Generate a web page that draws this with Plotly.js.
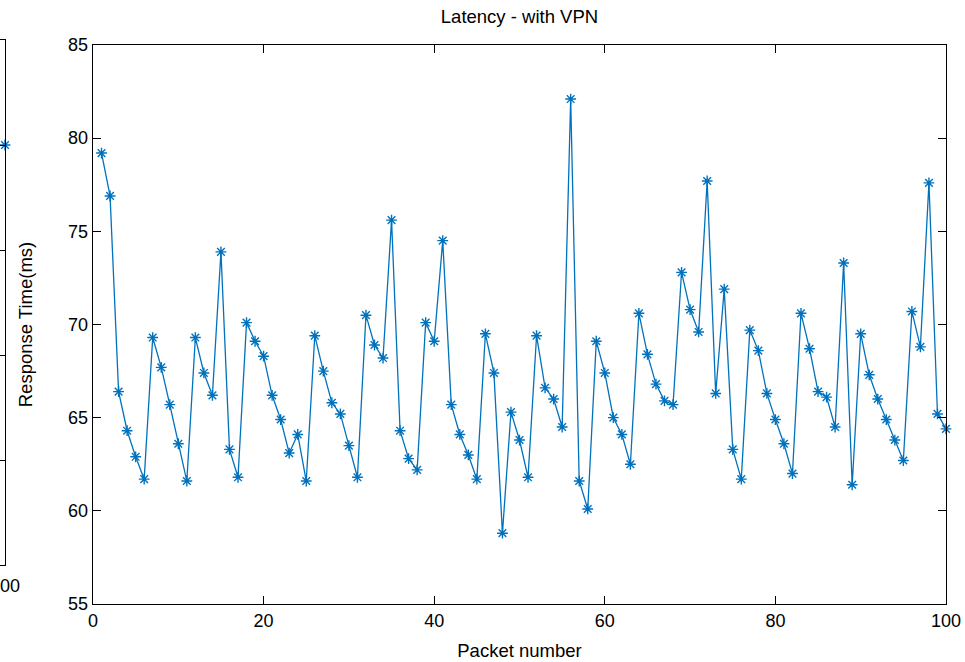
<!DOCTYPE html>
<html>
<head>
<meta charset="utf-8">
<script src="https://cdn.plot.ly/plotly-3.0.1.min.js"></script>
<style>html,body{margin:0;padding:0;background:#fff;}#chart{width:965px;height:662px;}</style>
</head>
<body>
<div id="chart"></div>
<script>
// Main chart: Latency - with VPN
const packetNumbers = [];
for (let i = 1; i <= 100; i++) packetNumbers.push(i);
const responseTimes = [
  79.2, 76.9, 66.4, 64.3, 62.9, 61.7, 69.3, 67.7, 65.7, 63.6,
  61.6, 69.3, 67.4, 66.2, 73.9, 63.3, 61.8, 70.1, 69.1, 68.3,
  66.2, 64.9, 63.1, 64.1, 61.6, 69.4, 67.5, 65.8, 65.2, 63.5,
  61.8, 70.5, 68.9, 68.2, 75.6, 64.3, 62.8, 62.2, 70.1, 69.1,
  74.5, 65.7, 64.1, 63.0, 61.7, 69.5, 67.4, 58.8, 65.3, 63.8,
  61.8, 69.4, 66.6, 66.0, 64.5, 82.1, 61.6, 60.1, 69.1, 67.4,
  65.0, 64.1, 62.5, 70.6, 68.4, 66.8, 65.9, 65.7, 72.8, 70.8,
  69.6, 77.7, 66.3, 71.9, 63.3, 61.7, 69.7, 68.6, 66.3, 64.9,
  63.6, 62.0, 70.6, 68.7, 66.4, 66.1, 64.5, 73.3, 61.4, 69.5,
  67.3, 66.0, 64.9, 63.8, 62.7, 70.7, 68.8, 77.6, 65.2, 64.4
];
const xTicks = [0, 20, 40, 60, 80, 100];
const yTicks = [55, 60, 65, 70, 75, 80, 85];

// Edge of the neighbouring (cropped) chart on the left
const neighbourX = [100];
const neighbourY = [4];
const neighbourXTicks = [100];

const blue = '#0072BD';
const font = 'Liberation Sans, Arial, Helvetica, sans-serif';

const traces = [
  {
    x: packetNumbers, y: responseTimes, type: 'scatter', mode: 'lines+markers',
    line: {color: blue, width: 1.3},
    marker: {symbol: 'asterisk-open', size: 9, color: blue, line: {color: blue, width: 1.4}},
    xaxis: 'x', yaxis: 'y', cliponaxis: false, hoverinfo: 'x+y'
  },
  {
    x: neighbourX, y: neighbourY, type: 'scatter', mode: 'markers',
    marker: {symbol: 'asterisk-open', size: 9, color: blue, line: {color: blue, width: 1.4}},
    xaxis: 'x2', yaxis: 'y2', cliponaxis: false, hoverinfo: 'skip'
  }
];

const plotH = 662 - 40 - 58;
const plotW = 965 - 19;
const layout = {
  width: 965, height: 662,
  margin: {l: 0, r: 19, t: 40, b: 58},
  paper_bgcolor: '#fff', plot_bgcolor: 'rgba(0,0,0,0)',
  showlegend: false,
  font: {family: font, size: 18, color: '#000'},
  title: {
    text: 'Latency - with VPN', font: {family: font, size: 18.5, color: '#000'},
    x: 519.5 / plotW, xanchor: 'center', xref: 'paper', y: 1 - 17 / 662, yanchor: 'middle', yref: 'container'
  },
  xaxis: {
    domain: [93 / plotW, 1], range: [0, 100], tickvals: xTicks, ticktext: xTicks.map(String),
    ticks: 'inside', ticklen: 8, tickwidth: 1, tickcolor: '#000',
    showline: true, linecolor: '#000', linewidth: 1.3, mirror: 'allticks',
    showgrid: false, zeroline: false, anchor: 'y',
    tickfont: {family: font, size: 18, color: '#000'},
    title: {text: 'Packet number', font: {family: font, size: 18.5, color: '#000'}, standoff: 14}
  },
  yaxis: {
    domain: [0, 559 / plotH], range: [55, 85], tickvals: yTicks, ticktext: yTicks.map(String),
    ticks: 'inside', ticklen: 8, tickwidth: 1, tickcolor: '#000',
    showline: true, linecolor: '#000', linewidth: 1.3, mirror: 'allticks',
    showgrid: false, zeroline: false, anchor: 'x',
    tickfont: {family: font, size: 18, color: '#000'},
    title: {text: 'Response Time(ms)', font: {family: font, size: 18.5, color: '#000'}, standoff: 30}
  },
  xaxis2: {
    domain: [0, 5 / plotW], range: [99.4, 100], tickvals: neighbourXTicks, ticktext: ['100'],
    ticks: '', showline: true, linecolor: '#000', linewidth: 1.3, mirror: true,
    showgrid: false, zeroline: false, anchor: 'y2', ticklabeloverflow: 'allow', ticklabelstandoff: 4,
    tickfont: {family: font, size: 18, color: '#000'}
  },
  yaxis2: {
    domain: [(604 - 565) / plotH, 1], range: [0, 5], dtick: 1, tick0: 0,
    side: 'right', ticks: 'inside', ticklen: 7, tickwidth: 1, tickcolor: '#000',
    showticklabels: false, showline: true, linecolor: '#000', linewidth: 1.3,
    showgrid: false, zeroline: false, anchor: 'x2'
  }
};

Plotly.newPlot('chart', traces, layout, {displayModeBar: false, staticPlot: true});
</script>
</body>
</html>
